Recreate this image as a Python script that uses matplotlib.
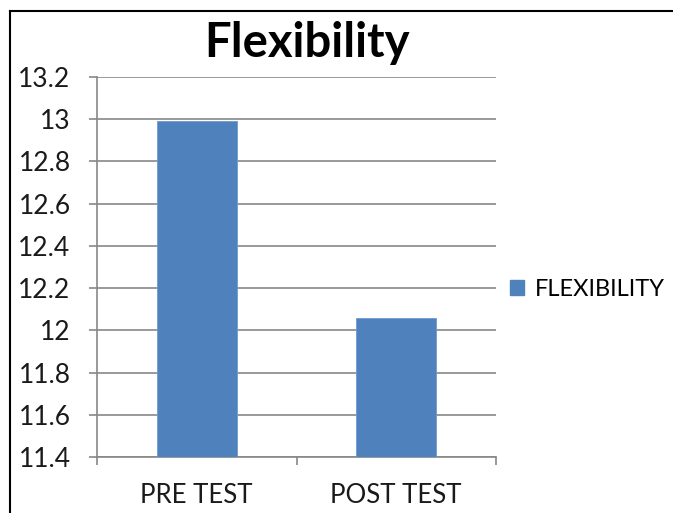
import matplotlib
matplotlib.use("Agg")
import matplotlib.pyplot as plt
from matplotlib.lines import Line2D
from matplotlib.patches import Patch

categories = ["PRE TEST", "POST TEST"]
values = [12.99, 12.06]
series_name = "FLEXIBILITY"
title = "Flexibility"
yticks = [11.4, 11.6, 11.8, 12.0, 12.2, 12.4, 12.6, 12.8, 13.0, 13.2]
ytick_labels = ["11.4", "11.6", "11.8", "12", "12.2", "12.4", "12.6", "12.8", "13", "13.2"]

bar_color = "#4F81BD"
grid_color = "#878787"
font = "Lato"

W, H = 673, 513
fig = plt.figure(figsize=(W / 100, H / 100), dpi=100)
ax = fig.add_axes([97 / W, 1 - 457 / H, (496 - 97) / W, (457 - 77) / H])

x = list(range(len(categories)))
ax.bar(x, values, width=0.4, color=bar_color, edgecolor="#6E9AD0", linewidth=0.6, zorder=3)
ax.set_xlim(-0.5, 1.5)
ax.set_ylim(11.4, 13.2)

ax.set_yticks(yticks)
ax.set_yticklabels(ytick_labels, fontfamily=font, fontsize=19, color="#1a1a1a")
ax.set_xticks([-0.5, 0.5, 1.5])
ax.set_xticklabels([])
ax.set_xticks(x, minor=True)
ax.set_xticklabels(categories, minor=True, fontfamily=font, fontsize=18.5, color="#1a1a1a")
ax.tick_params(axis="x", which="minor", length=0, pad=19)
ax.tick_params(axis="x", which="major", length=6, color=grid_color, width=1.2)
ax.tick_params(axis="y", length=6, color=grid_color, width=1.2, pad=13)

ax.grid(axis="y", color=grid_color, linewidth=1.2, zorder=0)
for side in ["top", "right"]:
    ax.spines[side].set_visible(False)
for side in ["left", "bottom"]:
    ax.spines[side].set_color(grid_color)
    ax.spines[side].set_linewidth(1.2)

fig.text(307 / W, 1 - 43 / H, title, ha="center", va="center",
         fontfamily=font, fontweight="bold", fontsize=34, color="#000000")

handles = [Patch(facecolor=bar_color, edgecolor=bar_color, label=series_name)]
fig.legend(handles=handles, loc="center left", bbox_to_anchor=(510 / W, 1 - 289 / H),
           frameon=False, prop={"family": font, "size": 17}, handlelength=0.6,
           handleheight=0.6, handletextpad=0.45, borderpad=0, borderaxespad=0)

# outer frame (left and top edges visible)
fig.add_artist(Line2D([9.5 / W, 9.5 / W], [0, 1 - 10.5 / H], transform=fig.transFigure,
                      color="black", linewidth=1.5))
fig.add_artist(Line2D([9.5 / W, 1], [1 - 10.5 / H, 1 - 10.5 / H], transform=fig.transFigure,
                      color="black", linewidth=1.5))

fig.savefig("out.png", dpi=100)
